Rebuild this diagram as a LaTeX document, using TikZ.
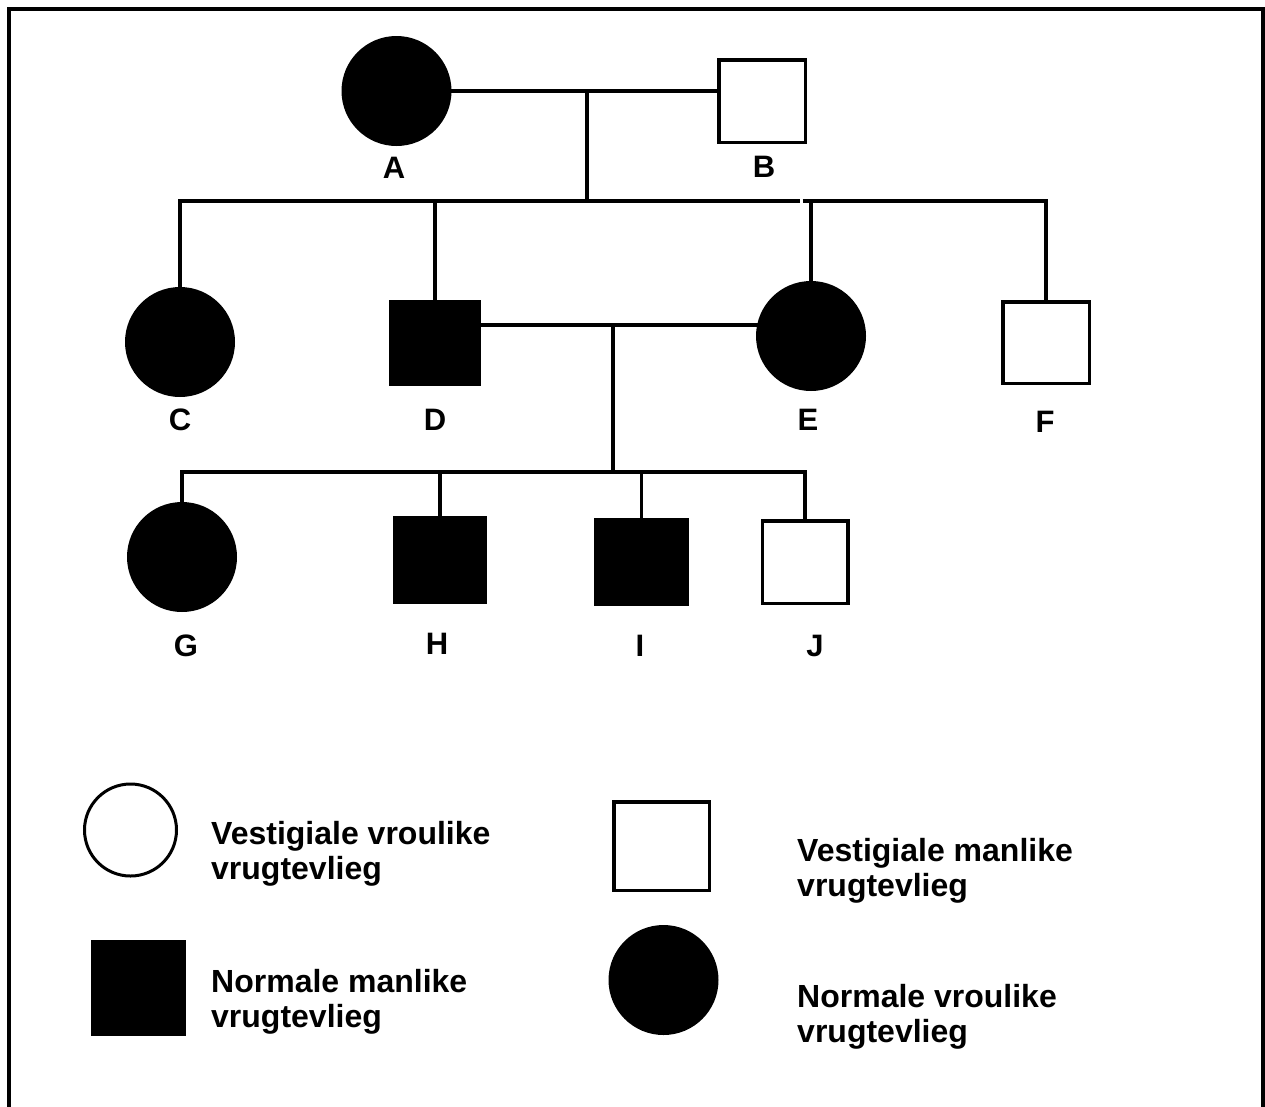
\documentclass[tikz,border=0pt]{standalone}
\usepackage{fontspec}
\setmainfont{Liberation Sans}
\begin{document}
\begin{tikzpicture}[x=1pt,y=-1pt,
  fem/.style={circle,fill=black,inner sep=0pt,minimum size=110pt},
  malef/.style={rectangle,fill=black,inner sep=0pt},
  malee/.style={rectangle,draw=black,fill=white,line width=3.5pt,inner sep=0pt},
  femo/.style={circle,draw=black,fill=white,line width=3pt,inner sep=0pt},
  conn/.style={line width=3.4pt,line cap=rect},
  lbl/.style={inner sep=0pt,font=\fontsize{31}{35}\selectfont\bfseries},
  leg/.style={inner sep=0pt,anchor=base west,font=\fontsize{32}{36}\selectfont\bfseries}]
\useasboundingbox (0,0) rectangle (1265,1106);
\fill[white] (0,0) rectangle (1265,1106);
% frame
\draw[line width=4pt] (9,1110) -- (9,9) -- (1263,9) -- (1263,1110);

% generation I
\node[fem] (A) at (396.5,91) {};
\node[malee,minimum width=86.5pt,minimum height=82.5pt] (B) at (762,101) {};
\node[lbl] (lA) at (394,168) {A};
\node[lbl] (lB) at (764,167) {B};
\coordinate (m1) at (587,91);
\coordinate (s1) at (587,201);

% generation II
\node[fem] (C) at (180,342) {};
\node[malef,minimum width=92pt,minimum height=86pt] (D) at (435,343) {};
\node[fem] (E) at (811,336) {};
\node[malee,minimum width=86.5pt,minimum height=81.5pt] (F) at (1046,342.5) {};
\node[lbl] (lC) at (180,420) {C};
\node[lbl] (lD) at (435,420) {D};
\node[lbl] (lE) at (808,420) {E};
\node[lbl] (lF) at (1045,422) {F};
\coordinate (m2) at (613,325);
\coordinate (s2) at (613,472);
\coordinate (gapL) at (800,201);
\coordinate (gapR) at (802.5,201);

% generation III
\node[fem] (G) at (182,557) {};
\node[malef,minimum width=94pt,minimum height=88pt] (H) at (440,560) {};
\node[malef,minimum width=95pt,minimum height=88pt] (I) at (641.5,562) {};
\node[malee,minimum width=85.5pt,minimum height=82.5pt] (J) at (805,562) {};
\node[lbl] (lG) at (186,646) {G};
\node[lbl] (lH) at (437,644) {H};
\node[lbl] (lI) at (640,646) {I};
\node[lbl] (lJ) at (815,646) {J};

% connectors
\draw[conn] (A.east |- m1) -- (B.west |- m1);
\draw[conn] (m1) -- (s1);
\draw[conn,line cap=butt] (C.north |- s1) ++(-1.7,0) -- (gapL);
\draw[conn,line cap=butt] (gapR) -- ([xshift=1.7pt]F.north |- s1);
\draw[conn] (C.north) -- (C.north |- s1);
\draw[conn] (D.north) -- (D.north |- s1);
\draw[conn] (E.north) -- (E.north |- s1);
\draw[conn] (F.north) -- (F.north |- s1);
\draw[conn] (D.east |- m2) -- (E.west |- m2);
\draw[conn] (m2) -- (s2);
\draw[conn] (G.north |- s2) -- (J.north |- s2);
\draw[conn] (G.north) -- (G.north |- s2);
\draw[conn] (H.north) -- (H.north |- s2);
\draw[conn] (I.north) -- (I.north |- s2);
\draw[conn] (J.north) -- (J.north |- s2);

% legend
\node[femo,minimum size=92pt] (k1) at (130.5,830) {};
\node[leg] (k1a) at (211,844) {Vestigiale vroulike};
\node[leg] (k1b) at (211,879) {vrugtevlieg};
\node[malee,minimum width=95.5pt,minimum height=88.5pt] (k2) at (661.5,846) {};
\node[leg] (k2a) at (797,861) {Vestigiale manlike};
\node[leg] (k2b) at (797,896) {vrugtevlieg};
\node[malef,minimum width=95pt,minimum height=96pt] (k3) at (138.5,988) {};
\node[leg] (k3a) at (211,992) {Normale manlike};
\node[leg] (k3b) at (211,1027) {vrugtevlieg};
\node[fem] (k4) at (663.5,980) {};
\node[leg] (k4a) at (797,1007) {Normale vroulike};
\node[leg] (k4b) at (797,1042) {vrugtevlieg};
\end{tikzpicture}
\end{document}
